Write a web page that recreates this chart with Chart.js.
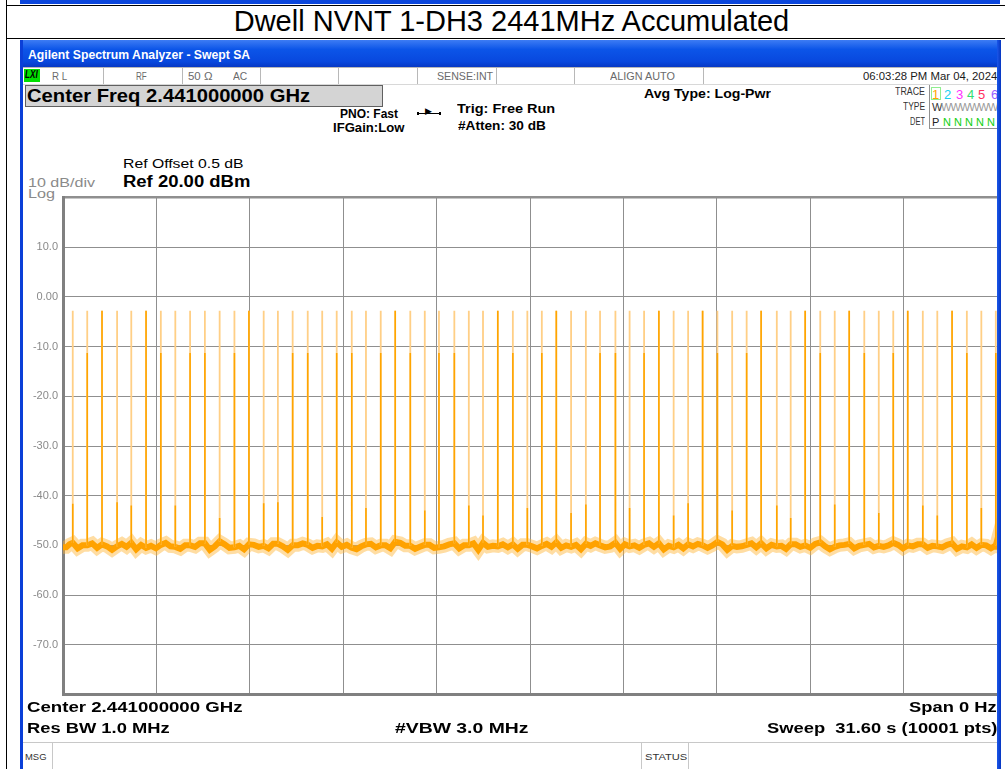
<!DOCTYPE html>
<html>
<head>
<meta charset="utf-8">
<script src="https://cdn.jsdelivr.net/npm/chart.js"></script>
<style>
body { margin: 0; width: 1005px; height: 769px; overflow: hidden; background: #fff; position: relative;
       font-family: "Liberation Sans", Arial, sans-serif; }
.a { position: absolute; white-space: pre; line-height: 1; transform-origin: left center; }
.r { transform-origin: right center; }
.b { font-weight: bold; }
.g { color: #8a8a8a; }
.s { color: #6a6a6a; font-size: 11px; top: 71px; }
.ln { position: absolute; background: #b8b8b8; }
#plot { position: absolute; left: 20px; top: 186px; width: 977px; height: 520px; }
</style>
</head>
<body>

<!-- page table around the screenshot -->
<div class="ln" style="left:20px;top:0;width:980px;height:4px;background:#0b46dc"></div>
<div class="ln" style="left:6px;top:0;width:1px;height:769px;background:#000"></div>
<div class="ln" style="left:6px;top:5px;width:999px;height:1px;background:#000"></div>
<div class="ln" style="left:6px;top:38px;width:999px;height:1px;background:#000"></div>
<div class="a" style="left:12px;top:7px;width:999px;text-align:center;font-size:29px;line-height:29px">Dwell NVNT 1-DH3 2441MHz Accumulated</div>

<!-- analyzer window frame -->
<div class="ln" style="left:20px;top:40px;width:980px;height:27px;background:linear-gradient(#3d7cf4,#0c55e8 35%,#0848de 80%,#0638c4)"></div>
<div class="ln" style="left:20px;top:40px;width:3px;height:729px;background:#0a3fd8;z-index:2"></div>
<div class="ln" style="left:997px;top:40px;width:4px;height:729px;background:linear-gradient(90deg,#1a56ea,#0636c0);z-index:2"></div>
<div class="a b" style="left:28px;top:49px;font-size:12px;color:#fff" data-w="222">Agilent Spectrum Analyzer - Swept SA</div>

<!-- status row -->
<div class="ln" style="left:23px;top:67px;width:974px;height:1px"></div>
<div class="ln" style="left:23px;top:84px;width:974px;height:1px;background:#d8d8d8"></div>
<div class="ln" style="left:103px;top:68px;width:1px;height:16px"></div>
<div class="ln" style="left:182px;top:68px;width:1px;height:16px"></div>
<div class="ln" style="left:260px;top:68px;width:1px;height:16px"></div>
<div class="ln" style="left:338px;top:68px;width:1px;height:16px"></div>
<div class="ln" style="left:417px;top:68px;width:1px;height:16px"></div>
<div class="ln" style="left:496px;top:68px;width:1px;height:16px"></div>
<div class="ln" style="left:574px;top:68px;width:1px;height:16px"></div>
<div class="ln" style="left:703px;top:68px;width:1px;height:16px"></div>
<div class="ln" style="left:24px;top:69px;width:16px;height:13px;background:#00e000"></div>
<div class="a b" style="left:25px;top:70px;font-size:10px;font-style:italic;color:#000" data-w="13">LXI</div>
<div class="a s" data-w="15" style="left:52px">R L</div>
<div class="a s" data-w="11" style="left:136px">RF</div>
<div class="a s" data-w="25" style="left:188px">50 Ω</div>
<div class="a s" data-w="14" style="left:233px">AC</div>
<div class="a s" data-w="56" style="left:437px">SENSE:INT</div>
<div class="a s" data-w="65" style="left:610px">ALIGN AUTO</div>
<div class="a s" data-w="134" style="left:863px;color:#1a1a1a">06:03:28 PM Mar 04, 2024</div>

<!-- settings block -->
<div class="ln" style="left:25px;top:85px;width:358px;height:22px;background:#d4d4d4;border:1px solid #606060;box-sizing:border-box"></div>
<div class="a b" style="left:27px;top:87px;font-size:18px" data-w="283">Center Freq 2.441000000 GHz</div>
<div class="a b" style="left:340px;top:108px;font-size:12px" data-w="58">PNO: Fast</div>
<div class="a b" style="left:333px;top:122px;font-size:12px" data-w="71">IFGain:Low</div>
<div class="ln" style="left:417px;top:113px;width:24px;height:1px;background:#000"></div>
<div class="ln" style="left:417px;top:112px;width:2px;height:3px;background:#000"></div>
<div class="ln" style="left:439px;top:112px;width:2px;height:3px;background:#000"></div>
<div class="a" style="left:425px;top:107px;font-size:9px">▶</div>
<div class="a b" style="left:457px;top:102px;font-size:13px" data-w="98">Trig: Free Run</div>
<div class="a b" style="left:458px;top:119px;font-size:13px" data-w="88">#Atten: 30 dB</div>
<div class="a b" style="left:644px;top:87px;font-size:13px" data-w="127">Avg Type: Log-Pwr</div>

<!-- trace block -->
<div class="a" style="left:895px;top:87px;font-size:10px;color:#333" data-w="30">TRACE</div>
<div class="a" style="left:903px;top:102px;font-size:10px;color:#333" data-w="22">TYPE</div>
<div class="a" style="left:910px;top:117px;font-size:10px;color:#333" data-w="15">DET</div>
<div class="ln" style="left:929px;top:85px;width:1px;height:44px;background:#909090"></div>
<div class="ln" style="left:929px;top:128px;width:70px;height:1px;background:#909090"></div>
<div class="ln" style="left:931px;top:87px;width:10px;height:13px;border:1px solid #90ee90;background:#fff;box-sizing:border-box"></div>
<div class="a" style="left:932px;top:88px;font-size:13px;color:#ffa500">1</div>
<div class="a" style="left:944px;top:88px;font-size:13px;color:#18d0f0">2</div>
<div class="a" style="left:956px;top:88px;font-size:13px;color:#ff30ff">3</div>
<div class="a" style="left:967px;top:88px;font-size:13px;color:#30e070">4</div>
<div class="a" style="left:978px;top:88px;font-size:13px;color:#ff3060">5</div>
<div class="a" style="left:991px;top:88px;font-size:13px;color:#9a60ff">6</div>
<div class="a" style="left:932px;top:102px;font-size:11px;color:#333">W</div>
<div class="a" style="left:941px;top:102px;font-size:11px;color:#999;letter-spacing:-1px">WWWWWW</div>
<div class="a" style="left:932px;top:117px;font-size:11px;color:#222">P</div>
<div class="a" style="left:943px;top:117px;font-size:11px;color:#10d010">N N N N N</div>

<!-- reference level labels -->
<div class="a" style="left:123px;top:157px;font-size:13px" data-w="120">Ref Offset 0.5 dB</div>
<div class="a b" style="left:123px;top:174px;font-size:16px" data-w="127">Ref 20.00 dBm</div>
<div class="a g" style="left:28px;top:177px;font-size:12px" data-w="67">10 dB/div</div>
<div class="a g" style="left:28px;top:188px;font-size:12px" data-w="27">Log</div>

<canvas id="plot" width="977" height="520"></canvas>

<!-- footer -->
<div class="a b" style="left:27px;top:699px;font-size:15px" data-w="215">Center 2.441000000 GHz</div>
<div class="a b r" style="right:8px;top:699px;font-size:15px" data-w="88">Span 0 Hz</div>
<div class="a b" style="left:27px;top:720px;font-size:15px" data-w="143">Res BW 1.0 MHz</div>
<div class="a b" style="left:395px;top:720px;font-size:15px" data-w="133">#VBW 3.0 MHz</div>
<div class="a b r" style="right:8px;top:720px;font-size:15px" data-w="230">Sweep  31.60 s (10001 pts)</div>
<div class="ln" style="left:23px;top:742px;width:974px;height:1px;background:#c8c8c8"></div>
<div class="ln" style="left:52px;top:743px;width:1px;height:26px;background:#c8c8c8"></div>
<div class="ln" style="left:641px;top:743px;width:1px;height:26px;background:#c8c8c8"></div>
<div class="ln" style="left:688px;top:743px;width:1px;height:26px;background:#c8c8c8"></div>
<div class="a" style="left:25px;top:753px;font-size:9px;color:#333" data-w="22">MSG</div>
<div class="a" style="left:645px;top:753px;font-size:9px;color:#333" data-w="42">STATUS</div>

<script>
// sweep: 0 Hz span, 31.6 s, y in dBm
var sweepTime = 31.6;
var xGrid = [0, 3.16, 6.32, 9.48, 12.64, 15.8, 18.96, 22.12, 25.28, 28.44, 31.6];
var yTicks = [20, 10, 0, -10, -20, -30, -40, -50, -60, -70, -80];
var yTickLabels = ["", "10.0", "0.00", "-10.0", "-20.0", "-30.0", "-40.0", "-50.0", "-60.0", "-70.0", ""];

// burst times (s)
var spikeTimes = [0.33, 0.82, 1.32, 1.83, 2.31, 2.81, 3.31, 3.80, 4.30, 4.80, 5.30, 5.80, 6.29, 6.79, 7.27, 7.77,
    8.28, 8.77, 9.26, 9.77, 10.25, 10.75, 11.24, 11.75, 12.24, 12.72, 13.24, 13.73, 14.21, 14.71, 15.22, 15.71,
    16.20, 16.69, 17.19, 17.69, 18.17, 18.69, 19.17, 19.66, 20.16, 20.66, 21.15, 21.64, 22.14, 22.64, 23.13, 23.62,
    24.15, 24.62, 25.11, 25.62, 26.11, 26.60, 27.11, 27.60, 28.09, 28.58, 29.09, 29.58, 30.08, 30.58, 31.07, 31.56];

// max-hold peak of every burst (pale trace)
var peakLevels = [-2.8, -2.8, -2.8, -2.8, -2.8, -2.8, -2.8, -2.8, -2.8, -2.8, -2.8, -2.8, -2.8, -2.8, -2.8, -2.8,
    -2.8, -2.8, -2.8, -2.8, -2.8, -2.8, -2.8, -2.8, -2.8, -2.8, -2.8, -2.8, -2.8, -2.8, -2.8, -2.8,
    -2.8, -2.8, -2.8, -2.8, -2.8, -2.8, -2.8, -2.8, -2.8, -2.8, -2.8, -2.8, -2.8, -2.8, -2.8, -2.8,
    -2.8, -2.8, -2.8, -2.8, -2.8, -2.8, -2.8, -2.8, -2.8, -2.8, -2.8, -2.8, -2.8, -2.8, -2.8, -2.8];

// solid part of every burst
var spikeLevels = [-41.6, -11.3, -2.8, -41.3, -42.0, -2.8, -11.3, -42.0, -11.3, -11.3, -44.5, -11.3, -2.8, -41.5, -41.3, -11.3,
    -11.3, -44.3, -11.3, -11.3, -42.5, -11.3, -2.8, -11.3, -43.0, -11.3, -11.3, -42.0, -44.0, -2.8, -11.3, -42.5,
    -11.3, -2.8, -43.5, -41.8, -11.3, -11.3, -42.5, -11.3, -2.8, -44.0, -41.5, -2.8, -11.3, -43.0, -11.3, -2.8,
    -42.0, -44.5, -2.8, -11.3, -41.8, -2.8, -11.3, -43.5, -11.3, -2.8, -42.0, -44.0, -2.8, -11.3, -42.5, -11.3];

// foot of every burst
var spikeBumps = [-49.5, -50.0, -49.8, -50.2, -49.5, -50.5, -49.9, -50.3, -50.0, -49.6, -49.2, -50.4, -49.8, -50.1, -49.7, -50.0,
    -49.9, -50.2, -49.4, -50.5, -49.8, -50.0, -49.3, -50.1, -49.9, -50.4, -49.6, -50.0, -49.5, -50.2, -49.8, -49.9,
    -50.1, -49.4, -50.3, -49.7, -50.0, -49.5, -50.2, -49.9, -49.6, -50.4, -49.8, -50.0, -49.3, -50.1, -49.9, -49.6,
    -50.2, -49.8, -50.0, -49.4, -50.3, -49.7, -49.9, -50.1, -49.5, -50.0, -49.8, -50.2, -49.6, -50.4, -49.9, -50.0];

// noise floor, two readings per gap between bursts
var floorLevels = [-50.4, -49.8, -50.6, -50.0, -49.6, -50.5, -50.2, -50.9, -49.7, -50.3,
    -50.8, -49.9, -50.1, -50.6, -49.5, -50.2, -50.7, -50.0, -50.3, -49.6,
    -50.9, -50.2, -49.8, -50.5, -50.1, -50.8, -49.9, -50.3, -50.6, -49.7,
    -50.2, -50.9, -50.0, -49.6, -50.5, -50.1, -49.8, -50.7, -50.3, -49.9,
    -50.8, -50.2, -49.7, -50.4, -50.0, -50.6, -49.5, -50.1, -50.7, -50.3,
    -49.9, -50.5, -50.2, -49.8, -50.6, -50.0, -49.6, -50.9, -50.3, -50.1,
    -49.8, -50.4, -50.7, -49.9, -50.2, -50.6, -49.7, -50.3, -50.5, -50.0,
    -49.9, -50.8, -50.1, -49.6, -50.4, -50.2, -50.7, -49.8, -50.0, -50.5,
    -49.6, -50.3, -50.8, -50.1, -49.9, -50.6, -50.2, -49.7, -50.5, -50.0,
    -49.8, -50.9, -50.3, -50.2, -49.6, -50.4, -50.6, -49.9, -50.1, -50.7,
    -49.8, -50.3, -50.5, -49.7, -50.2, -50.8, -50.0, -49.9, -50.6, -50.1,
    -49.7, -50.4, -50.3, -50.0, -49.9, -50.6, -50.2, -49.8, -50.5, -50.1,
    -50.4, -49.9, -50.7, -50.2, -49.8, -50.5, -50.0, -50.6, -49.7, -50.3];

// stretch the header texts to the widths seen in the screenshot
document.querySelectorAll("[data-w]").forEach(function (el) {
    var k = +el.dataset.w / el.offsetWidth;
    el.style.transform = "scaleX(" + k.toFixed(3) + ")";
});

var floorPts = [{ x: 0, y: floorLevels[0] }];
var edges = [0].concat(spikeTimes, [sweepTime]);
for (var g = 0; g < edges.length - 1; g++) {
    var a = edges[g], b = edges[g + 1];
    floorPts.push({ x: a + (b - a) / 3, y: floorLevels[2 * g] });
    floorPts.push({ x: a + 2 * (b - a) / 3, y: floorLevels[2 * g + 1] });
    if (g < spikeTimes.length) floorPts.push({ x: b, y: spikeBumps[g] });
}
floorPts.push({ x: sweepTime, y: floorLevels[floorLevels.length - 1] });

var palePts = [], solidPts = [];
spikeTimes.forEach(function (t, i) {
    palePts.push({ x: t, y: spikeBumps[i] }, { x: t, y: peakLevels[i] }, { x: t, y: null });
    solidPts.push({ x: t, y: spikeBumps[i] }, { x: t, y: spikeLevels[i] }, { x: t, y: null });
});

var ctx = document.getElementById("plot").getContext("2d");
var myChart = new Chart(ctx, {
    type: "line",
    data: {
        datasets: [
            { data: solidPts, borderColor: "#ffa500", borderWidth: 1.6, order: 1 },
            { data: palePts, borderColor: "#ffcf86", borderWidth: 1.8, order: 2 },
            { data: floorPts, borderColor: "#ffa200", borderWidth: 6, order: 3 },
            { data: floorPts, borderColor: "rgba(255,180,50,0.45)", borderWidth: 13, order: 4 },
        ],
    },
    options: {
        responsive: false,
        animation: false,
        events: [],
        layout: { padding: { top: 10, bottom: 4, left: 0, right: 0 } },
        elements: { point: { radius: 0 }, line: { tension: 0, borderJoinStyle: "miter" } },
        spanGaps: false,
        plugins: { legend: { display: false }, tooltip: { enabled: false } },
        scales: {
            x: {
                type: "linear",
                min: 0,
                max: sweepTime,
                afterBuildTicks: function (s) { s.ticks = xGrid.map(function (v) { return { value: v }; }); },
                afterFit: function (s) { s.height = 0; },
                ticks: { display: false },
                grid: { color: "#8f8f8f", lineWidth: 1, drawTicks: false },
                border: { color: "#808080", width: 3 },
            },
            y: {
                min: -80,
                max: 20,
                afterBuildTicks: function (s) { s.ticks = yTicks.map(function (v) { return { value: v }; }); },
                afterFit: function (s) { s.width = 43; },
                ticks: {
                    padding: 5,
                    color: "#8a8a8a",
                    font: { family: "Liberation Sans", size: 11 },
                    callback: function (v, i) { return yTickLabels[i]; },
                },
                grid: {
                    color: "#8f8f8f",
                    drawTicks: false,
                    lineWidth: function (c) { return c.tick && c.tick.value === 20 ? 2.5 : 1; },
                },
                border: { color: "#808080", width: 3 },
            },
        },
    },
});
</script>
</body>
</html>
